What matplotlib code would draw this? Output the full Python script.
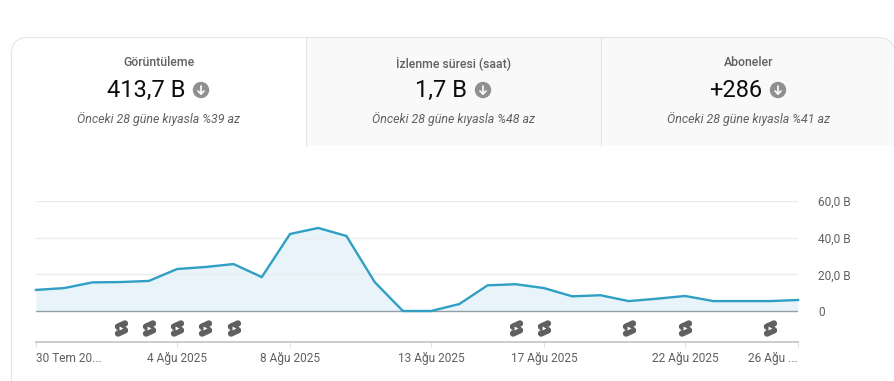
import numpy as np
import matplotlib
matplotlib.use('Agg')
import matplotlib.pyplot as plt
from matplotlib.patches import Circle, PathPatch, Rectangle
from matplotlib.path import Path

plt.rcParams['font.family'] = ['Roboto', 'DejaVu Sans']

# =====================
# DATA
# =====================
views = [11.5, 12.5, 15.6, 15.8, 16.4, 22.9, 24.0, 25.6, 18.5, 42.0,
         45.3, 40.9, 15.8, 0.0, 0.0, 3.8, 14.0, 14.6, 12.5, 8.0,
         8.6, 5.4, 6.7, 8.2, 5.4, 5.4, 5.4, 6.0]
tick_pos = [0, 5, 9, 14, 18, 23, 27]
tick_labels = ['30 Tem 20...', '4 Ağu 2025', '8 Ağu 2025', '13 Ağu 2025',
               '17 Ağu 2025', '22 Ağu 2025', '26 Ağu ...']
y_ticks = [0, 20, 40, 60]
y_labels = ['0', '20,0 B', '40,0 B', '60,0 B']
shorts_days = [3, 4, 5, 6, 7, 17, 18, 21, 23, 26]

tab_titles = ['Görüntüleme', 'İzlenme süresi (saat)', 'Aboneler']
tab_values = ['413,7 B', '1,7 B', '+286']
tab_notes = ['Önceki 28 güne kıyasla %39 az', 'Önceki 28 güne kıyasla %48 az',
             'Önceki 28 güne kıyasla %41 az']

W, H = 895, 381
fig = plt.figure(figsize=(W / 100, H / 100), dpi=100, facecolor='white')

# =====================
# CARD AND TABS (pixel coordinates)
# =====================
bg = fig.add_axes([0, 0, 1, 1])
bg.set_xlim(0, W)
bg.set_ylim(H, 0)
bg.axis('off')

border = '#e5e5e5'
tab_bottom = 145.5
grey_path = Path([(307, tab_bottom), (307, 37.5), (878, 37.5), (893, 37.5), (893, 52), (893, tab_bottom), (307, tab_bottom)],
                 [Path.MOVETO, Path.LINETO, Path.LINETO, Path.CURVE3, Path.CURVE3, Path.LINETO, Path.CLOSEPOLY])
bg.add_patch(PathPatch(grey_path, facecolor='#f9f9f9', edgecolor='none'))
bg.add_patch(Rectangle((893, 60), 2, tab_bottom - 60, facecolor='#f9f9f9', edgecolor='none'))

outline = Path([(11.5, H), (11.5, 54), (11.5, 37.5), (28, 37.5), (878, 37.5), (893, 37.5), (895, 52)],
               [Path.MOVETO, Path.LINETO, Path.CURVE3, Path.CURVE3, Path.LINETO, Path.CURVE3, Path.CURVE3])
bg.add_patch(PathPatch(outline, facecolor='none', edgecolor=border, linewidth=0.8))
bg.plot([306.5, 306.5], [37.5, tab_bottom], color=border, lw=0.8)
bg.plot([601.5, 601.5], [37.5, tab_bottom], color=border, lw=0.8)

title_x = [159, 454, 749]
note_x = [159, 454, 749]
value_x = [146, 441.5, 736]
badge_x = [201, 483, 778]
for i in range(3):
    bg.text(title_x[i], 63, tab_titles[i], ha='center', va='center',
            fontsize=8.8, fontweight='medium', color='#606060')
    bg.text(value_x[i], 90.5, tab_values[i], ha='center', va='center', fontsize=17.0, color='#0d0d0d')
    bg.text(note_x[i], 119.5, tab_notes[i], ha='center', va='center',
            fontsize=8.9, style='italic', color='#606060')
    bg.add_patch(Circle((badge_x[i], 90), 8.2, facecolor='#909090', edgecolor='none'))
    bg.plot([badge_x[i], badge_x[i]], [85.5, 94], color='white', lw=1.2, solid_capstyle='round')
    bg.plot([badge_x[i] - 3, badge_x[i], badge_x[i] + 3], [91, 94, 91], color='white', lw=1.2,
            solid_capstyle='round', solid_joinstyle='round')

# =====================
# CHART
# =====================
left, right = 36, 798
top, bottom = 201.0, 341.7
zero_y = 311.0
px_per_unit = 110 / 60
ax = fig.add_axes([left / W, 1 - bottom / H, (right - left) / W, (bottom - top) / H])
ax.patch.set_alpha(0)
days = np.arange(len(views))
ax.set_xlim(0, len(views) - 1)
ax.set_ylim(-(bottom - zero_y) / px_per_unit, 60)

ax.fill_between(days, views, 0, color='#e8f4fa', lw=0, zorder=2)
for v in y_ticks[1:]:
    ax.axhline(v, color='#e9eced', lw=1.0, zorder=2.5)
ax.axhline(0, color='#90a0a6', lw=1.0, zorder=3)
ax.plot(days, views, color='#2f9fc4', lw=1.7, zorder=4, clip_on=False, solid_joinstyle='miter')


def capsule(x0, y0, x1, y1, r):
    ang = np.arctan2(y1 - y0, x1 - x0)
    t1 = np.linspace(ang + np.pi / 2, ang + 3 * np.pi / 2, 10)
    t2 = np.linspace(ang - np.pi / 2, ang + np.pi / 2, 10)
    pts = np.vstack([np.c_[x0 + r * np.cos(t1), y0 + r * np.sin(t1)],
                     np.c_[x1 + r * np.cos(t2), y1 + r * np.sin(t2)]])
    return Path(np.vstack([pts, pts[0]]), closed=True)


icon = Path.make_compound_path(capsule(-3.4, 1.8, 3.4, 5.0, 3.2),
                               capsule(-3.4, -5.0, 3.4, -1.8, 3.2),
                               capsule(-3.0, 1.8, 3.0, -1.8, 3.0))
icon_y = -(328 - zero_y) / px_per_unit
icon_extent = np.abs(icon.vertices).max()
ax.plot(shorts_days, [icon_y] * len(shorts_days), ls='none', marker=icon,
        markersize=2 * icon_extent * 0.72, markerfacecolor='#606060', markeredgecolor='none', zorder=5)
ax.plot(shorts_days, [icon_y] * len(shorts_days), ls='none', marker='>', markersize=2.8,
        markerfacecolor='white', markeredgecolor='none', zorder=6)

# axes
for side in ['top', 'left', 'right']:
    ax.spines[side].set_visible(False)
ax.spines['bottom'].set_color('#cccccc')
ax.spines['bottom'].set_linewidth(1.4)

ax.set_xticks(tick_pos)
ax.set_xticklabels(tick_labels)
ax.tick_params(axis='x', length=3.5, width=0.7, color='#dddddd', labelcolor='#606060', labelsize=8.6, pad=4)
labels = ax.get_xticklabels()
labels[0].set_ha('left')
labels[-1].set_ha('right')

ax.yaxis.tick_right()
ax.set_yticks(y_ticks)
ax.set_yticklabels(y_labels)
ax.tick_params(axis='y', length=0, labelcolor='#606060', labelsize=8.6, pad=14.4)

fig.savefig('out.png', dpi=100)
